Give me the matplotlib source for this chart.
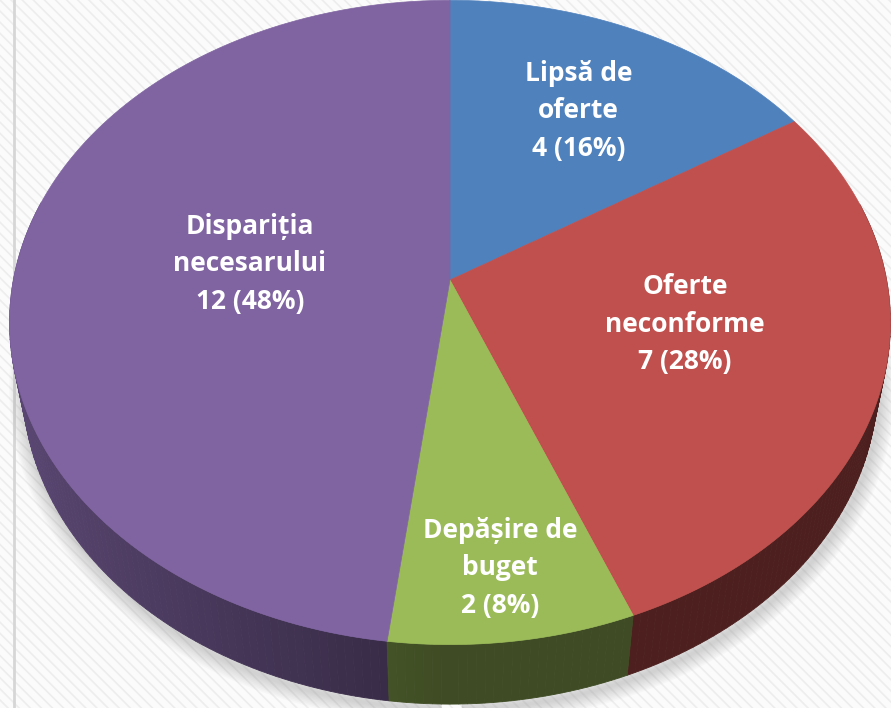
import numpy as np
import matplotlib.pyplot as plt
from matplotlib.patches import Polygon, Rectangle

# date din grafic
nume = ["Lipsă de\noferte", "Oferte\nneconforme", "Depășire de\nbuget", "Dispariția\nnecesarului"]
valori = [4, 7, 2, 12]
culori = ["#4F81BD", "#C0504D", "#9BBB59", "#8064A2"]
raza_eticheta = [0.657, 0.546, 0.818, 0.464]   # pozitie eticheta (fractie din raza)
decalaj_eticheta = [0.0, 3.5, 0.0, -2.7]        # grade fata de mijlocul feliei

# proiectie 3D (perspectiva) in pixeli
W, H = 891, 708
cx, cy = 450, 280
K, D = 2279.0, 5.22
ce, se = 0.688, 0.725
t = 0.214   # grosimea discului


def proj(u, v, h=0.0):
    depth = D + v * ce - h * se
    x = u * K / depth
    y = (v * se + h * ce) * K / depth
    return cx + x, cy - y


fig = plt.figure(figsize=(W / 100, H / 100), dpi=100)
ax = fig.add_axes([0, 0, 1, 1])
ax.set_xlim(0, W)
ax.set_ylim(H, 0)
ax.axis('off')

# fundal cu dungi
plt.rcParams['hatch.linewidth'] = 1.2
ax.add_patch(Rectangle((0, 0), W, H, facecolor="#FBFBFB", edgecolor="#EDEDED",
                       hatch="\\\\\\", linewidth=0, zorder=0))
ax.axvline(14, color="#D6D6D6", lw=2, zorder=1)

# umbra
th = np.linspace(0, 2 * np.pi, 400)
bx, by = proj(np.cos(th), np.sin(th), -t)
for k in range(10, 0, -1):
    ax.add_patch(Polygon(np.column_stack([bx + 2, by + 5]), closed=True,
                         facecolor="none", edgecolor="#808080", lw=k * 2.2,
                         alpha=0.035, zorder=2, joinstyle='round'))

# unghiuri felii (incepe sus, sens orar)
total = sum(valori)
frac = np.array(valori) / total
capete = 90 - 360 * np.concatenate([[0], np.cumsum(frac)])

# fete laterale
quads = []
for i in range(len(valori)):
    a0, a1 = np.radians(capete[i]), np.radians(capete[i + 1])
    n = max(int(abs(a1 - a0) / np.radians(1.0)), 2)
    aa = np.linspace(a0, a1, n + 1)
    base = np.array(plt.matplotlib.colors.to_rgb(culori[i]))
    for j in range(n):
        p, q = aa[j], aa[j + 1]
        m = 0.5 * (p + q)
        if np.sin(m) > 0.25:
            continue
        f = 0.40 + 0.32 * max(0.0, -np.cos(m))
        pts = [proj(np.cos(p), np.sin(p)), proj(np.cos(q), np.sin(q)),
               proj(np.cos(q), np.sin(q), -t), proj(np.cos(p), np.sin(p), -t)]
        quads.append((np.sin(m), pts, tuple(base * f)))
quads.sort(key=lambda z: -z[0])
for _, pts, col in quads:
    ax.add_patch(Polygon(pts, closed=True, facecolor=col, edgecolor=col,
                         lw=0.6, zorder=3))

# fata de sus + etichete
for i in range(len(valori)):
    aa = np.radians(np.linspace(capete[i], capete[i + 1], 200))
    xs, ys = proj(np.cos(aa), np.sin(aa))
    pts = np.column_stack([np.r_[cx, xs], np.r_[cy, ys]])
    ax.add_patch(Polygon(pts, closed=True, facecolor=culori[i],
                         edgecolor=culori[i], lw=0.5, zorder=4))
    mid = np.radians(0.5 * (capete[i] + capete[i + 1]) + decalaj_eticheta[i])
    r = raza_eticheta[i]
    lx, ly = proj(r * np.cos(mid), r * np.sin(mid))
    pct = round(100 * valori[i] / total)
    ax.text(lx, ly, f"{nume[i]}\n{valori[i]} ({pct}%)", ha="center", va="center",
            color="white", fontsize=19, fontweight="bold", family="Open Sans",
            linespacing=1.5, zorder=5)

fig.savefig("out.png", dpi=100)
